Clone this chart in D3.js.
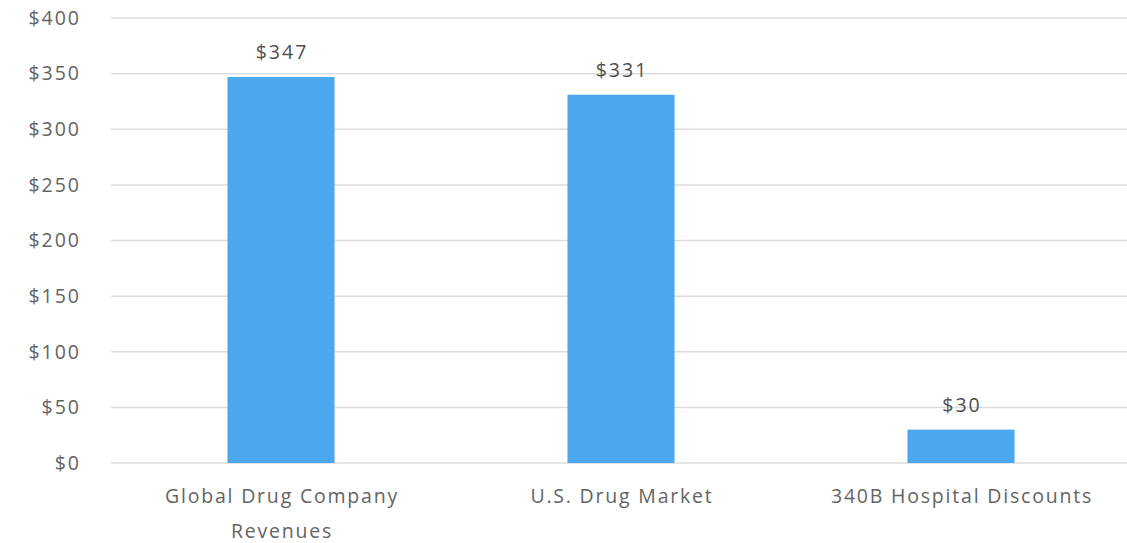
<!DOCTYPE html>
<html><head><meta charset="utf-8">
<script src="https://cdn.jsdelivr.net/npm/d3@7"></script>
<style>
html,body{margin:0;padding:0;background:#fff;}
svg{display:block;font-family:"Open Sans","Noto Sans",sans-serif;}
</style></head>
<body><svg id="c" width="1127" height="543"></svg>
<script>
const categories = [["Global Drug Company","Revenues"],["U.S. Drug Market"],["340B Hospital Discounts"]];
const values = [347, 331, 30];
const yTicks = [0, 50, 100, 150, 200, 250, 300, 350, 400];

const svg = d3.select("#c");
const names = categories.map(c => c.join(" "));
const x = d3.scaleBand().domain(names).range([111, 1131]).paddingInner(0.685).paddingOuter(0.3425);
const y = d3.scaleLinear().domain([0, 400]).range([463, 18]);

// gridlines
svg.append("g").selectAll("line").data(yTicks).join("line")
  .attr("x1", 111).attr("x2", 1127)
  .attr("y1", d => y(d)).attr("y2", d => y(d))
  .attr("stroke", "#dcdcdc").attr("stroke-width", 1.5);

// y labels
svg.append("g").selectAll("text").data(yTicks).join("text")
  .attr("x", 81).attr("y", d => y(d)).attr("dy", "0.35em")
  .attr("text-anchor", "end").attr("fill", "#636363").attr("font-size", 19.5)
  .attr("letter-spacing", 2)
  .text(d => "$" + d);

// bars
svg.append("g").selectAll("rect").data(values).join("rect")
  .attr("x", (d, i) => x(names[i])).attr("width", x.bandwidth())
  .attr("y", d => y(d)).attr("height", d => y(0) - y(d))
  .attr("fill", "#4ba8ed");

// value labels
svg.append("g").selectAll("text").data(values).join("text")
  .attr("x", (d, i) => x(names[i]) + x.bandwidth() / 2 + 1)
  .attr("y", d => y(d) - 18)
  .attr("text-anchor", "middle").attr("fill", "#4f4f4f").attr("font-size", 19.5)
  .attr("letter-spacing", 2)
  .text(d => "$" + d);

// category labels
const cl = svg.append("g").selectAll("text").data(categories).join("text")
  .attr("text-anchor", "middle").attr("fill", "#636363").attr("font-size", 19.5)
  .attr("letter-spacing", 1.8)
  .attr("transform", (d, i) => `translate(${x(names[i]) + x.bandwidth() / 2 + 1},503)`);
cl.selectAll("tspan").data(d => d).join("tspan")
  .attr("x", 0).attr("y", (d, j) => j * 35).text(d => d);
</script></body></html>
